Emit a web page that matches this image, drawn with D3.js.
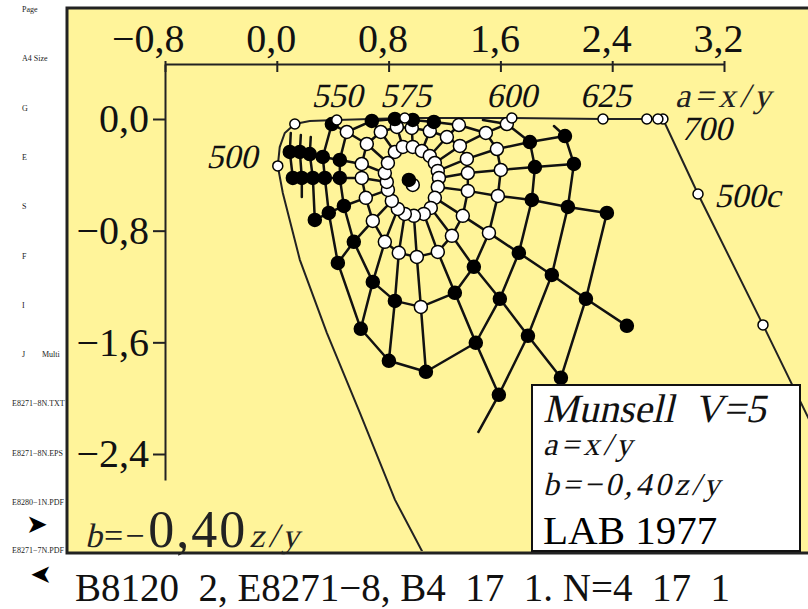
<!DOCTYPE html>
<html>
<head>
<meta charset="utf-8">
<script src="https://cdn.jsdelivr.net/npm/d3@7"></script>
<style>
  body { margin: 0; background: #fff; }
  svg { display: block; font-family: "Liberation Serif", "Times New Roman", serif; }
</style>
</head>
<body>
<svg id="chart" width="808" height="609"></svg>
<script>
// axis ticks
const xTicks = [-0.8, 0.0, 0.8, 1.6, 2.4, 3.2];
const yTicks = [0.0, -0.8, -1.6, -2.4];

// Munsell V=5 hue lines, points from chroma step 1 outward: [a, b, type]
// type 0 = open dot, 1 = filled dot, 2 = no dot, 3 = no dot, chroma ring only
const hueLines = [
  [[0.845,-0.236,0],[0.744,-0.093,0],[0.680,-0.014,1]],
  [[0.902,-0.200,0],[0.859,-0.057,0],[0.845,0.000,1]],
  [[0.973,-0.200,0],[0.966,-0.064,0],[0.973,-0.007,1]],
  [[1.038,-0.229,0],[1.095,-0.086,0],[1.124,-0.021,1]],
  [[1.095,-0.265,0],[1.217,-0.129,0],[1.303,-0.043,0],[1.475,-0.007,3]],
  [[1.131,-0.315,0],[1.310,-0.193,0],[1.496,-0.100,0],[1.646,-0.036,0],[1.983,-0.050,3]],
  [[1.152,-0.372,0],[1.360,-0.286,0],[1.575,-0.215,0],[1.811,-0.165,1],[2.062,-0.122,1]],
  [[1.160,-0.422,0],[1.367,-0.387,0],[1.603,-0.365,0],[1.847,-0.344,1],[2.126,-0.322,1]],
  [[1.152,-0.487,0],[1.367,-0.515,0],[1.582,-0.551,0],[1.825,-0.580,1],[2.083,-0.630,1],[2.362,-0.673,1]],
  [[1.131,-0.565,0],[1.331,-0.694,0],[1.518,-0.816,0],[1.732,-0.959,1],[1.968,-1.117,1],[2.212,-1.288,1],[2.505,-1.482,1]],
  [[1.102,-0.637,0],[1.253,-0.837,0],[1.410,-1.059,1],[1.596,-1.288,1],[1.797,-1.553,1],[2.033,-1.854,1]],
  [[1.052,-0.680,0],[1.152,-0.952,0],[1.274,-1.245,1],[1.424,-1.603,1],[1.589,-1.976,1],null,[1.439,-2.248,2]],
  [[0.981,-0.694,0],[1.002,-0.988,0],[1.031,-1.346,0],[1.067,-1.811,1]],
  [[0.916,-0.680,0],[0.873,-0.959,0],[0.845,-1.303,1],[0.802,-1.732,1]],
  [[0.866,-0.644,0],[0.773,-0.880,0],[0.687,-1.167,1],[0.601,-1.503,1]],
  [[0.823,-0.587,0],[0.687,-0.730,0],[0.551,-0.880,1],[0.437,-1.031,1]],
  [[0.795,-0.508,0],[0.637,-0.565,0],[0.480,-0.623,1],[0.372,-0.673,1],[0.272,-0.723,1],[0.179,-0.558,3],[0.107,-0.458,3]],
  [[0.787,-0.451,0],[0.608,-0.422,0],[0.451,-0.422,1],[0.344,-0.422,1],[0.258,-0.422,1],[0.179,-0.422,1],[0.115,-0.422,1]],
  [[0.773,-0.387,0],[0.608,-0.322,0],[0.451,-0.293,1],[0.329,-0.272,1],[0.236,-0.251,1],[0.165,-0.236,1],[0.093,-0.236,1]],
  [[0.795,-0.315,0],[0.644,-0.179,0],[0.501,-0.093,0],[0.394,-0.036,1],[0.243,-0.129,3],[0.172,-0.115,3],[0.100,-0.100,3]]
];

// grey points in the centre
const neutralOpen = [0.973, -0.472];
const neutralFilled = [0.945, -0.437];

// spectral locus, long wavelength end first; last flag = open marker
const spectralLocus = [
  [2.763,0.000,1],[2.727,0.000,1],[2.648,0.000,1],[2.334,0.000,1],[1.682,0.007,1],
  [0.916,0.007,1],[0.429,-0.007,1],[0.236,-0.014,0],[0.129,-0.036,1],[0.057,-0.100,0],
  [0.021,-0.201,0],[0.007,-0.336,1],[0.043,-0.530,0],[0.165,-1.009,0],[0.358,-1.532,0],
  [0.594,-2.104,0],[0.845,-2.727,0],[1.045,-3.107,0],[1.167,-3.372,0]
];
// purple line from 700 through the 500c point
const purpleLine = [[2.763,0.000,0],[3.014,-0.537,1],[3.479,-1.475,1],[4.245,-3.049,0]];

const waveLabels = [
  { text: "500", a: -0.14, b: -0.35, anchor: "end" },
  { text: "550", a: 0.43, b: 0.085, anchor: "middle" },
  { text: "575", a: 0.92, b: 0.085, anchor: "middle" },
  { text: "600", a: 1.68, b: 0.085, anchor: "middle" },
  { text: "625", a: 2.35, b: 0.085, anchor: "middle" },
  { text: "700", a: 2.89, b: -0.15, anchor: "start" },
  { text: "500c", a: 3.13, b: -0.63, anchor: "start" }
];

const sideLabels = ["Page", "A4 Size", "G", "E", "S", "F", "I", "J", "E8271\u22128N.TXT", "E8271\u22128N.EPS", "E8280\u22121N.PDF", "E8271\u22127N.PDF"];
const caption = "B8120\u20022, E8271\u22128, B4\u200217\u20021. N=4\u200217\u20021";

const svg = d3.select("#chart");
const yellow = "#fff49a";

const x = d3.scaleLinear().domain([-0.8, 3.2]).range([165, 724]);
const y = d3.scaleLinear().domain([0, -2.4]).range([119, 454]);

const fmt = d3.formatLocale({ decimal: ",", thousands: ".", grouping: [3], currency: ["", ""], minus: "\u2212" }).format(".1f");

// slanted serif text (oblique Liberation Serif), returns the node
function slanted(parent, px, py, str, size, opts = {}) {
  return parent.append("text")
    .attr("transform", `translate(${px},${py}) skewX(-13)`)
    .attr("font-size", size)
    .attr("font-family", "Liberation Serif")
    .attr("text-anchor", opts.anchor || "start")
    .attr("letter-spacing", opts.spacing || 0)
    .attr("fill", opts.fill || "#111")
    .text(str);
}

// frame
svg.append("rect")
  .attr("x", 67).attr("y", 8)
  .attr("width", 800).attr("height", 545)
  .attr("fill", yellow)
  .attr("stroke", "#222").attr("stroke-width", 3);

svg.append("clipPath").attr("id", "plotClip")
  .append("rect").attr("x", 69).attr("y", 10).attr("width", 800).attr("height", 541);

// side labels
const sideG = svg.append("g").attr("font-size", 8).attr("fill", "#222");
sideLabels.forEach((t, i) => {
  const rowY = i < 11 ? 12 + i * 49.3 : 553;
  sideG.append("text")
    .attr("x", t.length > 8 ? 12 : 22)
    .attr("y", rowY)
    .text(t);
});
sideG.append("text").attr("x", 42).attr("y", 12 + 7 * 49.3).text("Multi");
svg.append("text").attr("x", 26).attr("y", 533).attr("font-size", 26)
  .attr("font-family", "DejaVu Sans").text("\u27A4");
svg.append("text").attr("transform", "translate(52,583) scale(-1,1)").attr("font-size", 26)
  .attr("font-family", "DejaVu Sans").text("\u27A4");

// axes
const xAxis = d3.axisTop(x).tickValues(xTicks).tickFormat(fmt).tickSizeInner(-8).tickSizeOuter(0).tickPadding(12);
const gx = svg.append("g").attr("transform", "translate(0,64)").call(xAxis);
gx.selectAll("text").attr("font-size", 40).attr("font-family", "Liberation Serif")
  .attr("fill", "#111").attr("text-anchor", "end").attr("dx", 19).attr("y", -12);
gx.selectAll(".tick line").attr("y1", -3).attr("stroke", "#222").attr("stroke-width", 2);
gx.select(".domain").attr("stroke", "#222").attr("stroke-width", 2);

const yAxisScale = y.copy().domain([y.invert(64), y.invert(480)]).range([64, 480]);
const yAxis = d3.axisLeft(yAxisScale).tickValues(yTicks).tickFormat(fmt).tickSizeInner(12).tickSizeOuter(0).tickPadding(4);
const gy = svg.append("g").attr("transform", "translate(165,0)").call(yAxis);
gy.selectAll("text").attr("font-size", 40).attr("font-family", "Liberation Serif")
  .attr("fill", "#111").attr("dy", "0.32em");
gy.selectAll(".tick line").attr("stroke", "#222").attr("stroke-width", 2);
gy.select(".domain").attr("stroke", "#222").attr("stroke-width", 2);

// plot content
const plot = svg.append("g").attr("clip-path", "url(#plotClip)");
const line = d3.line().x(d => x(d[0])).y(d => y(d[1]));

plot.append("path").datum(spectralLocus).attr("d", line)
  .attr("fill", "none").attr("stroke", "#222").attr("stroke-width", 2);
plot.append("path").datum(purpleLine).attr("d", line)
  .attr("fill", "none").attr("stroke", "#222").attr("stroke-width", 2);

// chroma rings: join neighbouring hues at the same chroma step
const maxSteps = d3.max(hueLines, h => h.length);
for (let k = 0; k < maxSteps; k++) {
  for (let i = 0; i < hueLines.length; i++) {
    const p = hueLines[i][k];
    const q = hueLines[(i + 1) % hueLines.length][k];
    if (!p || !q) continue;
    plot.append("line")
      .attr("x1", x(p[0])).attr("y1", y(p[1]))
      .attr("x2", x(q[0])).attr("y2", y(q[1]))
      .attr("stroke", "#111").attr("stroke-width", 2.5).attr("stroke-linecap", "round");
  }
}

// hue lines
hueLines.forEach(h => {
  const pts = h.filter(p => p && p[2] !== 3);
  plot.append("path").datum(pts).attr("d", line)
    .attr("fill", "none").attr("stroke", "#111").attr("stroke-width", 2.5)
    .attr("stroke-linejoin", "round");
});

// dots
const dots = hueLines.flat().filter(p => p && p[2] < 2);
plot.selectAll("circle.munsell").data(dots).join("circle")
  .attr("class", "munsell")
  .attr("cx", d => x(d[0])).attr("cy", d => y(d[1]))
  .attr("r", 6.5)
  .attr("fill", d => d[2] === 1 ? "#000" : "#fff")
  .attr("stroke", "#000").attr("stroke-width", 1.5);

plot.append("circle").attr("cx", x(neutralOpen[0])).attr("cy", y(neutralOpen[1])).attr("r", 6.5)
  .attr("fill", "#fff").attr("stroke", "#000").attr("stroke-width", 1.5);
plot.append("circle").attr("cx", x(neutralFilled[0])).attr("cy", y(neutralFilled[1])).attr("r", 6.5)
  .attr("fill", "#000").attr("stroke", "#000").attr("stroke-width", 1.5);

const specDots = spectralLocus.concat(purpleLine).filter(p => p[2] === 1);
plot.selectAll("circle.spec").data(specDots).join("circle")
  .attr("class", "spec")
  .attr("cx", d => x(d[0])).attr("cy", d => y(d[1]))
  .attr("r", 5)
  .attr("fill", "#fff").attr("stroke", "#000").attr("stroke-width", 1.5);

// wavelength labels
const labG = svg.append("g");
waveLabels.forEach(d => slanted(labG, x(d.a), y(d.b), d.text, 34, { anchor: d.anchor }));
slanted(svg, 675, 107, "a=x/y", 34, { spacing: 4.5, fill: "#222" });

// bottom-left axis title, pieces placed one after another
let cx = 85;
const bY = 547;
let n = slanted(svg, cx, bY, "b", 34, { fill: "#222" });
cx += n.node().getComputedTextLength() + 2;
n = svg.append("text").attr("x", cx).attr("y", bY).attr("font-size", 34).attr("letter-spacing", 2)
  .attr("fill", "#222").text("=\u2212");
cx += n.node().getComputedTextLength() + 2;
n = svg.append("text").attr("x", cx).attr("y", bY).attr("font-size", 52).attr("letter-spacing", 2)
  .attr("fill", "#222").text("0,40");
cx += n.node().getComputedTextLength() + 2;
slanted(svg, cx, bY, "z/y", 34, { spacing: 4, fill: "#222" });

// legend box
const lg = svg.append("g").attr("transform", "translate(532,385)");
lg.append("rect").attr("width", 268).attr("height", 166)
  .attr("fill", "#fff").attr("stroke", "#111").attr("stroke-width", 2);
slanted(lg, 11, 37, "Munsell\u00a0\u00a0V=5", 40);
slanted(lg, 11, 70, "a=x/y", 32, { spacing: 4 });
slanted(lg, 11, 110, "b=\u22120,40z/y", 32, { spacing: 3.3 });
lg.append("text").attr("x", 11).attr("y", 159).attr("font-size", 41)
  .text("LAB 1977");

// caption
svg.append("text").attr("x", 75).attr("y", 601).attr("font-size", 39).attr("fill", "#111")
  .text(caption);
</script>
</body>
</html>
